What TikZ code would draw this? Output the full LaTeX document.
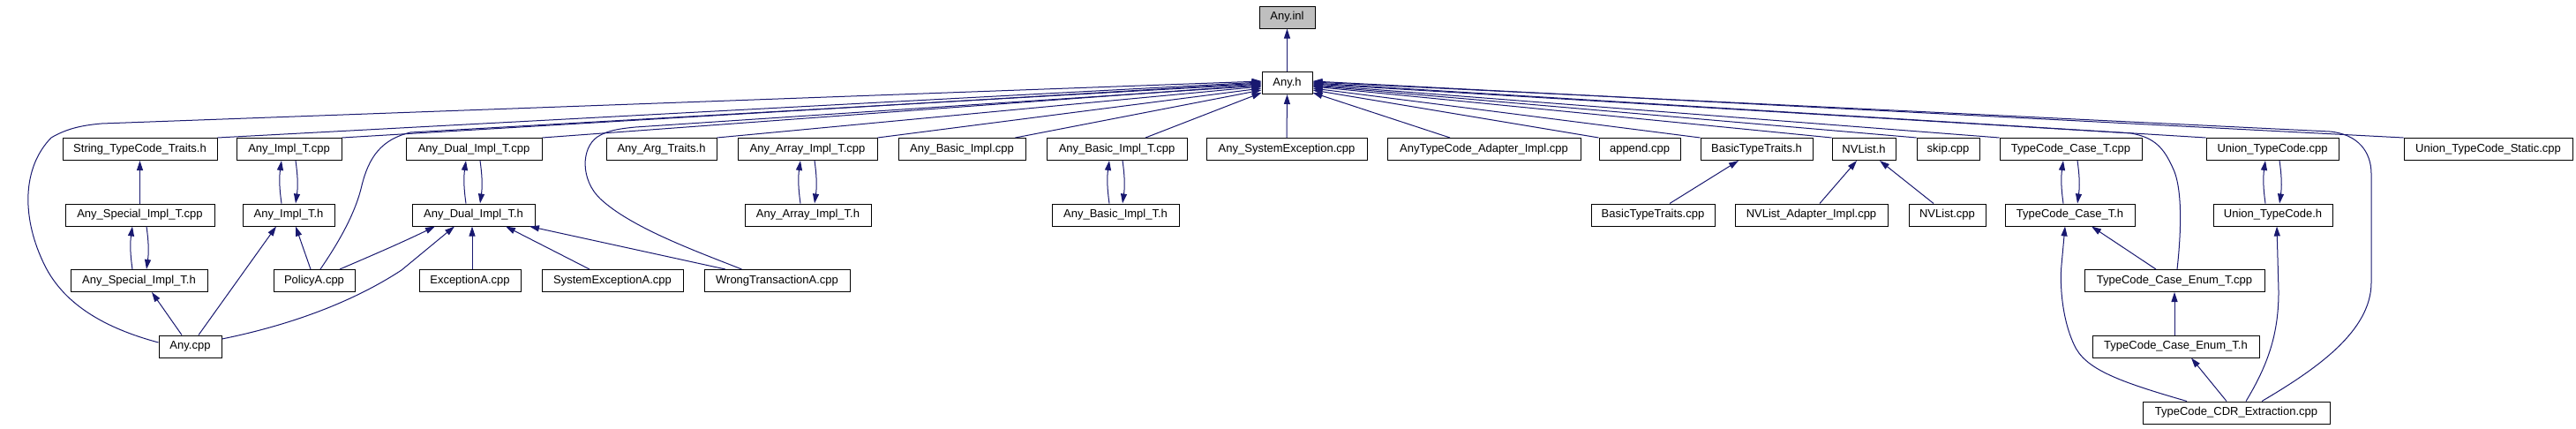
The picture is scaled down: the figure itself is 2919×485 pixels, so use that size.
\documentclass[tikz,border=0pt]{standalone}
\usepackage{fontspec}
\setmainfont{Liberation Sans}
\usetikzlibrary{arrows.meta}
\definecolor{edgeblue}{HTML}{191970}
\definecolor{hdrgray}{HTML}{BFBFBF}
\begin{document}
\begin{tikzpicture}[x=1pt,y=-1pt,
  box/.style={draw=black,line width=1pt,fill=white,minimum height=25pt,inner sep=0pt,font=\fontsize{13}{15}\selectfont},
  edge/.style={draw=edgeblue,line width=1pt,-{Triangle[length=11pt,width=7pt]}}]
\fill[white] (0,0) rectangle (2919,485);
\useasboundingbox (0,0) rectangle (2919,485);

% rows 0,1
\node[box,fill=hdrgray,minimum width=63pt] (anyinl) at (1458.5,19.5) {Any.inl};
\node[box,minimum width=57pt] (anyh) at (1458.5,94) {Any.h};
% row 2
\node[box,minimum width=175pt] (STT) at (158.5,169) {String\_TypeCode\_Traits.h};
\node[box,minimum width=119pt] (AIcpp) at (327.5,169) {Any\_Impl\_T.cpp};
\node[box,minimum width=154pt] (ADcpp) at (537,169) {Any\_Dual\_Impl\_T.cpp};
\node[box,minimum width=125pt] (AAT) at (749.5,169) {Any\_Arg\_Traits.h};
\node[box,minimum width=158pt] (AAcpp) at (915,169) {Any\_Array\_Impl\_T.cpp};
\node[box,minimum width=144pt] (ABI) at (1090,169) {Any\_Basic\_Impl.cpp};
\node[box,minimum width=159pt] (ABcpp) at (1265.5,169) {Any\_Basic\_Impl\_T.cpp};
\node[box,minimum width=182pt] (ASE) at (1458,169) {Any\_SystemException.cpp};
\node[box,minimum width=219pt] (ATAI) at (1681.5,169) {AnyTypeCode\_Adapter\_Impl.cpp};
\node[box,minimum width=92pt] (app) at (1858,169) {append.cpp};
\node[box,minimum width=127pt] (BTTh) at (1990.5,169) {BasicTypeTraits.h};
\node[box,minimum width=72pt] (NVh) at (2112,169) {NVList.h};
\node[box,minimum width=71pt] (skip) at (2207.5,169) {skip.cpp};
\node[box,minimum width=161pt] (TCcpp) at (2346.5,169) {TypeCode\_Case\_T.cpp};
\node[box,minimum width=150pt] (UTcpp) at (2575,169) {Union\_TypeCode.cpp};
\node[box,minimum width=191pt] (UTS) at (2819.5,169) {Union\_TypeCode\_Static.cpp};
% row 3
\node[box,minimum width=169pt] (ASIcpp) at (158.5,243.5) {Any\_Special\_Impl\_T.cpp};
\node[box,minimum width=104pt] (AIh) at (327,243.5) {Any\_Impl\_T.h};
\node[box,minimum width=139pt] (ADh) at (536.5,243.5) {Any\_Dual\_Impl\_T.h};
\node[box,minimum width=143pt] (AAh) at (915.5,243.5) {Any\_Array\_Impl\_T.h};
\node[box,minimum width=144pt] (ABh) at (1264,243.5) {Any\_Basic\_Impl\_T.h};
\node[box,minimum width=140pt] (BTTcpp) at (1873,243.5) {BasicTypeTraits.cpp};
\node[box,minimum width=173pt] (NVAI) at (2052.5,243.5) {NVList\_Adapter\_Impl.cpp};
\node[box,minimum width=87pt] (NVcpp) at (2206.5,243.5) {NVList.cpp};
\node[box,minimum width=147pt] (TCh) at (2345.5,243.5) {TypeCode\_Case\_T.h};
\node[box,minimum width=135pt] (UTh) at (2575.5,243.5) {Union\_TypeCode.h};
% row 4
\node[box,minimum width=155pt] (ASIh) at (157.5,318) {Any\_Special\_Impl\_T.h};
\node[box,minimum width=92pt] (Pol) at (356,318) {PolicyA.cpp};
\node[box,minimum width=115pt] (Exc) at (532.5,318) {ExceptionA.cpp};
\node[box,minimum width=160pt] (SysExc) at (694,318) {SystemExceptionA.cpp};
\node[box,minimum width=165pt] (WT) at (880.5,318) {WrongTransactionA.cpp};
\node[box,minimum width=204pt] (TCEcpp) at (2464,318) {TypeCode\_Case\_Enum\_T.cpp};
% row 5
\node[box,minimum width=71pt] (Anycpp) at (215.5,392.5) {Any.cpp};
\node[box,minimum width=189pt] (TCEh) at (2465.5,392.5) {TypeCode\_Case\_Enum\_T.h};
% row 6
\node[box,minimum width=212pt] (CDR) at (2534,467.5) {TypeCode\_CDR\_Extraction.cpp};

% edges into Any.inl / Any.h
\draw[edge] (anyh.north) -- (anyinl.south);
\draw[edge] (ASE.north) -- (anyh.south);
% left side
\draw[edge] ([yshift=4.5pt]Anycpp.west) .. controls (120,372) and (70,345) .. (48,295) .. controls (25,245) and (25,190) .. (58,156) .. controls (75,146) and (92,142) .. (115,140) -- ([yshift=2pt]anyh.west);
\draw[edge] (STT.north east) -- ([yshift=1pt]anyh.west);
\draw[edge] (AIcpp.north east) -- (anyh.west);
\draw[edge] ([xshift=7pt]Pol.north) .. controls (380,280) and (402,245) .. (410,210) .. controls (418,178) and (432,158) .. (465,150) -- ([yshift=-1pt]anyh.west);
\draw[edge] (ADcpp.north east) -- ([yshift=-2pt]anyh.west);
\draw[edge] ([xshift=-40pt]WT.north) .. controls (790,285) and (715,258) .. (680,225) .. controls (658,204) and (658,168) .. (677,155) .. controls (688,148) and (700,146) .. (720,144) -- ([yshift=-3pt]anyh.west);
\draw[edge] (AAT.north east) -- ([yshift=-4pt]anyh.west);
\draw[edge] (AAcpp.north east) -- ([yshift=-6pt]anyh.west);
\draw[edge] ([xshift=-12pt]ABI.north east) -- ([yshift=-8pt]anyh.west);
\draw[edge] ([xshift=32.5pt]ABcpp.north) -- ([yshift=-11pt]anyh.west);
% right side
\draw[edge] (UTS.north west) -- ([yshift=2pt]anyh.east);
\draw[edge] ([xshift=29pt]CDR.north) .. controls (2625,418) and (2687,375) .. (2687,320) -- (2687,197) .. controls (2687,172) and (2672,152) .. (2640,149) -- ([yshift=1pt]anyh.east);
\draw[edge] (UTcpp.north west) -- (anyh.east);
\draw[edge] ([xshift=3pt]TCEcpp.north) .. controls (2472,260) and (2473,212) .. (2462,190) .. controls (2452,168) and (2442,156) .. (2415,151) -- ([yshift=-1pt]anyh.east);
\draw[edge] (TCcpp.north west) -- ([yshift=-2pt]anyh.east);
\draw[edge] (skip.north west) -- ([yshift=-3pt]anyh.east);
\draw[edge] (NVh.north west) -- ([yshift=-4pt]anyh.east);
\draw[edge] (BTTh.north west) -- ([yshift=-6pt]anyh.east);
\draw[edge] (app.north west) -- ([yshift=-8pt]anyh.east);
\draw[edge] ([xshift=-38.5pt]ATAI.north) -- ([yshift=-11pt]anyh.east);

% pairs cpp <-> h
\draw[edge] ([xshift=-8pt]AIh.north) to[bend left=8] ([xshift=-8.5pt]AIcpp.south);
\draw[edge] ([xshift=7.5pt]AIcpp.south) to[bend left=8] ([xshift=8pt]AIh.north);
\draw[edge] ([xshift=-8.5pt]ADh.north) to[bend left=8] ([xshift=-9pt]ADcpp.south);
\draw[edge] ([xshift=7pt]ADcpp.south) to[bend left=8] ([xshift=7.5pt]ADh.north);
\draw[edge] ([xshift=-7.5pt]ASIh.north) to[bend left=8] ([xshift=-8.5pt]ASIcpp.south);
\draw[edge] ([xshift=7.5pt]ASIcpp.south) to[bend left=8] ([xshift=8.5pt]ASIh.north);
\draw[edge] ([xshift=-8.5pt]AAh.north) to[bend left=8] ([xshift=-8pt]AAcpp.south);
\draw[edge] ([xshift=8pt]AAcpp.south) to[bend left=8] ([xshift=7.5pt]AAh.north);
\draw[edge] ([xshift=-7pt]ABh.north) to[bend left=8] ([xshift=-8.5pt]ABcpp.south);
\draw[edge] ([xshift=6.5pt]ABcpp.south) to[bend left=8] ([xshift=8pt]ABh.north);
\draw[edge] ([xshift=-7.5pt]TCh.north) to[bend left=8] ([xshift=-8.5pt]TCcpp.south);
\draw[edge] ([xshift=7.5pt]TCcpp.south) to[bend left=8] ([xshift=8.5pt]TCh.north);
\draw[edge] ([xshift=-8.5pt]UTh.north) to[bend left=8] ([xshift=-8pt]UTcpp.south);
\draw[edge] ([xshift=8pt]UTcpp.south) to[bend left=8] ([xshift=7.5pt]UTh.north);

% other edges
\draw[edge] (ASIcpp.north) -- (STT.south);
\draw[edge] ([xshift=-9.5pt]Anycpp.north) -- ([xshift=14.5pt]ASIh.south);
\draw[edge] ([xshift=9.5pt]Anycpp.north) -- ([xshift=-14pt]AIh.south);
\draw[edge] ([xshift=-4pt]Pol.north) -- ([xshift=8pt]AIh.south);
\draw[edge] ([xshift=29pt]Pol.north) .. controls (420,290) and (455,275) .. ([xshift=-43.5pt]ADh.south);
\draw[edge] ([yshift=8.5pt]Anycpp.east) .. controls (330,368) and (400,342) .. (455,306) -- ([xshift=-21.5pt]ADh.south);
\draw[edge] ([xshift=2.5pt]Exc.north) -- ([xshift=-1.5pt]ADh.south);
\draw[edge] ([xshift=-26pt]SysExc.north) -- ([xshift=36.5pt]ADh.south);
\draw[edge] ([xshift=-58.5pt]WT.north) -- ([xshift=63.5pt]ADh.south);
\draw[edge] ([xshift=19pt]BTTcpp.north) -- ([xshift=-20.5pt]BTTh.south);
\draw[edge] ([xshift=9.5pt]NVAI.north) -- ([xshift=-8pt]NVh.south);
\draw[edge] ([xshift=-15.5pt]NVcpp.north) -- ([xshift=18pt]NVh.south);
\draw[edge] ([xshift=-21pt]TCEcpp.north) -- ([xshift=24.5pt]TCh.south);
\draw[edge] ([xshift=-1.5pt]TCEh.north) -- (TCEcpp.south);
\draw[edge] ([xshift=-11pt]CDR.north) -- ([xshift=17.5pt]TCEh.south);
\draw[edge] ([xshift=-56pt]CDR.north) .. controls (2400,432) and (2362,418) .. (2350,390) .. controls (2336,360) and (2334,320) .. (2336,300) -- ([xshift=-5.5pt]TCh.south);
\draw[edge] ([xshift=11pt]CDR.north) .. controls (2572,410) and (2582,375) .. (2582,330) -- ([xshift=4.5pt]UTh.south);
\end{tikzpicture}
\end{document}
